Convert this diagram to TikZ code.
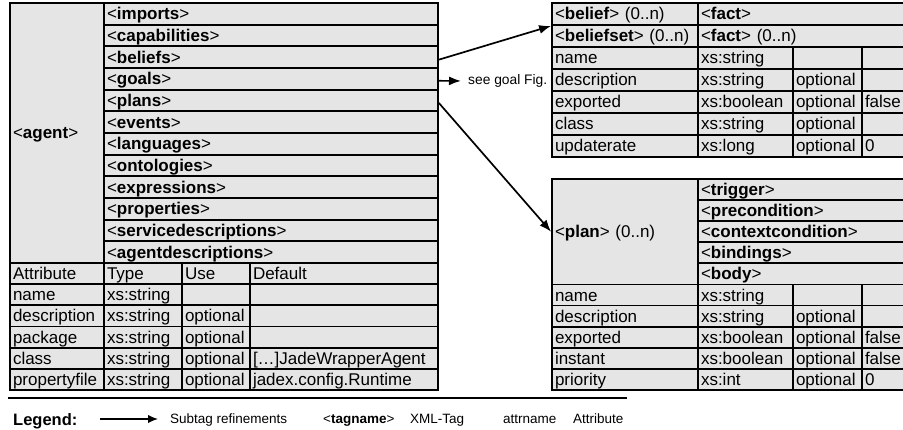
\documentclass[tikz,border=0pt]{standalone}
\usepackage{fontspec}
\setmainfont{Liberation Sans}
\usetikzlibrary{arrows.meta}

\definecolor{cellgray}{gray}{0.9}

% tag name: angle brackets regular, name in bold
\newcommand\tagn[1]{<\textbf{#1}>}

\tikzset{
  cellbox/.style={draw=black, fill=cellgray, line width=1.8pt, rectangle,
    inner xsep=3pt, inner ysep=0pt, align=left, text height=12pt, text depth=0pt,
    font=\fontsize{17}{20}\selectfont},
  link/.style={line width=1.7pt, -{Latex[length=12pt,width=9pt]}},
  legendtext/.style={anchor=base west, inner sep=1pt, font=\fontsize{13.5}{16}\selectfont},
}

% \tcell{name}{left}{top}{width}{height}{text}
\newcommand\tcell[6]{%
  \pgfmathsetlengthmacro\celltw{#4pt-6pt}%
  \node[cellbox, minimum width=#4pt, minimum height=#5pt, text width=\celltw]
    (#1) at ({#2+#4/2},{#3+#5/2}) {\mbox{#6}};}

% attribute row of the agent table: {index}{attr}{type}{use}{default}
\newcommand\lrow[5]{%
  \pgfmathsetmacro\ry{263+#1*21.2}%
  \tcell{la#1a}{10}{\ry}{94}{21.2}{#2}%
  \tcell{la#1b}{104}{\ry}{78}{21.2}{#3}%
  \tcell{la#1c}{182}{\ry}{68}{21.2}{#4}%
  \tcell{la#1d}{250}{\ry}{188}{21.2}{#5}}

% attribute row of the right-hand tables: {prefix}{top}{height}{attr}{type}{use}{default}
\newcommand\rrow[7]{%
  \tcell{#1a}{552}{#2}{146}{#3}{#4}%
  \tcell{#1b}{698}{#2}{95}{#3}{#5}%
  \tcell{#1c}{793}{#2}{69}{#3}{#6}%
  \tcell{#1d}{862}{#2}{60}{#3}{#7}}

\begin{document}
\begin{tikzpicture}[x=1pt,y=-1pt]
\useasboundingbox (0,0) rectangle (903,430);
\clip (0,0) rectangle (903,430);
\fill[white] (0,0) rectangle (903,430);

% ---------- agent table ----------
\tcell{agent}{10}{3}{94}{260}{\tagn{agent}}
\foreach \t [count=\i from 0] in {imports,capabilities,beliefs,goals,plans,events,
    languages,ontologies,expressions,properties,servicedescriptions,agentdescriptions}{
  \tcell{\t}{104}{3+\i*21.667}{334}{21.667}{\tagn{\t}}
}
\lrow{0}{Attribute}{Type}{Use}{Default}
\lrow{1}{name}{xs:string}{}{}
\lrow{2}{description}{xs:string}{optional}{}
\lrow{3}{package}{xs:string}{optional}{}
\lrow{4}{class}{xs:string}{optional}{[…]JadeWrapperAgent}
\lrow{5}{propertyfile}{xs:string}{optional}{jadex.config.Runtime}

% ---------- belief table ----------
\tcell{belief}{552}{3}{146}{22}{\tagn{belief} (0..n)}
\tcell{fact}{698}{3}{224}{22}{\tagn{fact}}
\tcell{beliefset}{552}{25}{146}{22}{\tagn{beliefset} (0..n)}
\tcell{factset}{698}{25}{224}{22}{\tagn{fact} (0..n)}
\rrow{ba}{47}{22}{name}{xs:string}{}{}
\rrow{bb}{69}{22}{description}{xs:string}{optional}{}
\rrow{bc}{91}{22}{exported}{xs:boolean}{optional}{false}
\rrow{bd}{113}{22}{class}{xs:string}{optional}{}
\rrow{be}{135}{22}{updaterate}{xs:long}{optional}{0}

% ---------- plan table ----------
\tcell{plan}{552}{179}{146}{105.5}{\tagn{plan} (0..n)}
\foreach \t [count=\i from 0] in {trigger,precondition,contextcondition,bindings,body}{
  \tcell{\t}{698}{179+\i*21.1}{224}{21.1}{\tagn{\t}}
}
\rrow{pa}{284.5}{21.1}{name}{xs:string}{}{}
\rrow{pb}{305.6}{21.1}{description}{xs:string}{optional}{}
\rrow{pc}{326.7}{21.1}{exported}{xs:boolean}{optional}{false}
\rrow{pd}{347.8}{21.1}{instant}{xs:boolean}{optional}{false}
\rrow{pe}{368.9}{21.1}{priority}{xs:int}{optional}{0}

% ---------- refinements ----------
\node[anchor=west, inner sep=2pt, font=\fontsize{13.8}{16}\selectfont] (seegoal) at (466,81) {see goal Fig.};
\draw[link] ([yshift=-2.5pt]beliefs.east) -- (belief.south west);
\draw[link, shorten >=5pt] ([yshift=-2pt]goals.east) -- (seegoal.west);
\draw[link] ([yshift=-2.5pt]plans.east) -- (plan.west);

% ---------- legend ----------
\draw[line width=1.5pt] (8,398) -- (627,398);
\node[anchor=base west, inner sep=1pt, font=\bfseries\fontsize{16.5}{19}\selectfont] (legend) at (12,425) {Legend:};
\coordinate (lgstart) at (100,419);
\node[legendtext] (lgsub) at (169,424) {Subtag refinements};
\draw[line width=1.4pt, -{Latex[length=10pt,width=8.5pt]}, shorten >=11pt] (lgstart) -- (lgsub.west |- lgstart);
\node[legendtext] (lgtag) at (322,424) {\tagn{tagname}};
\node[legendtext] (lgxml) at (409,424) {XML-Tag};
\node[legendtext] (lgattr) at (502,424) {attrname};
\node[legendtext] (lgattrd) at (572,424) {Attribute};
\end{tikzpicture}
\end{document}
